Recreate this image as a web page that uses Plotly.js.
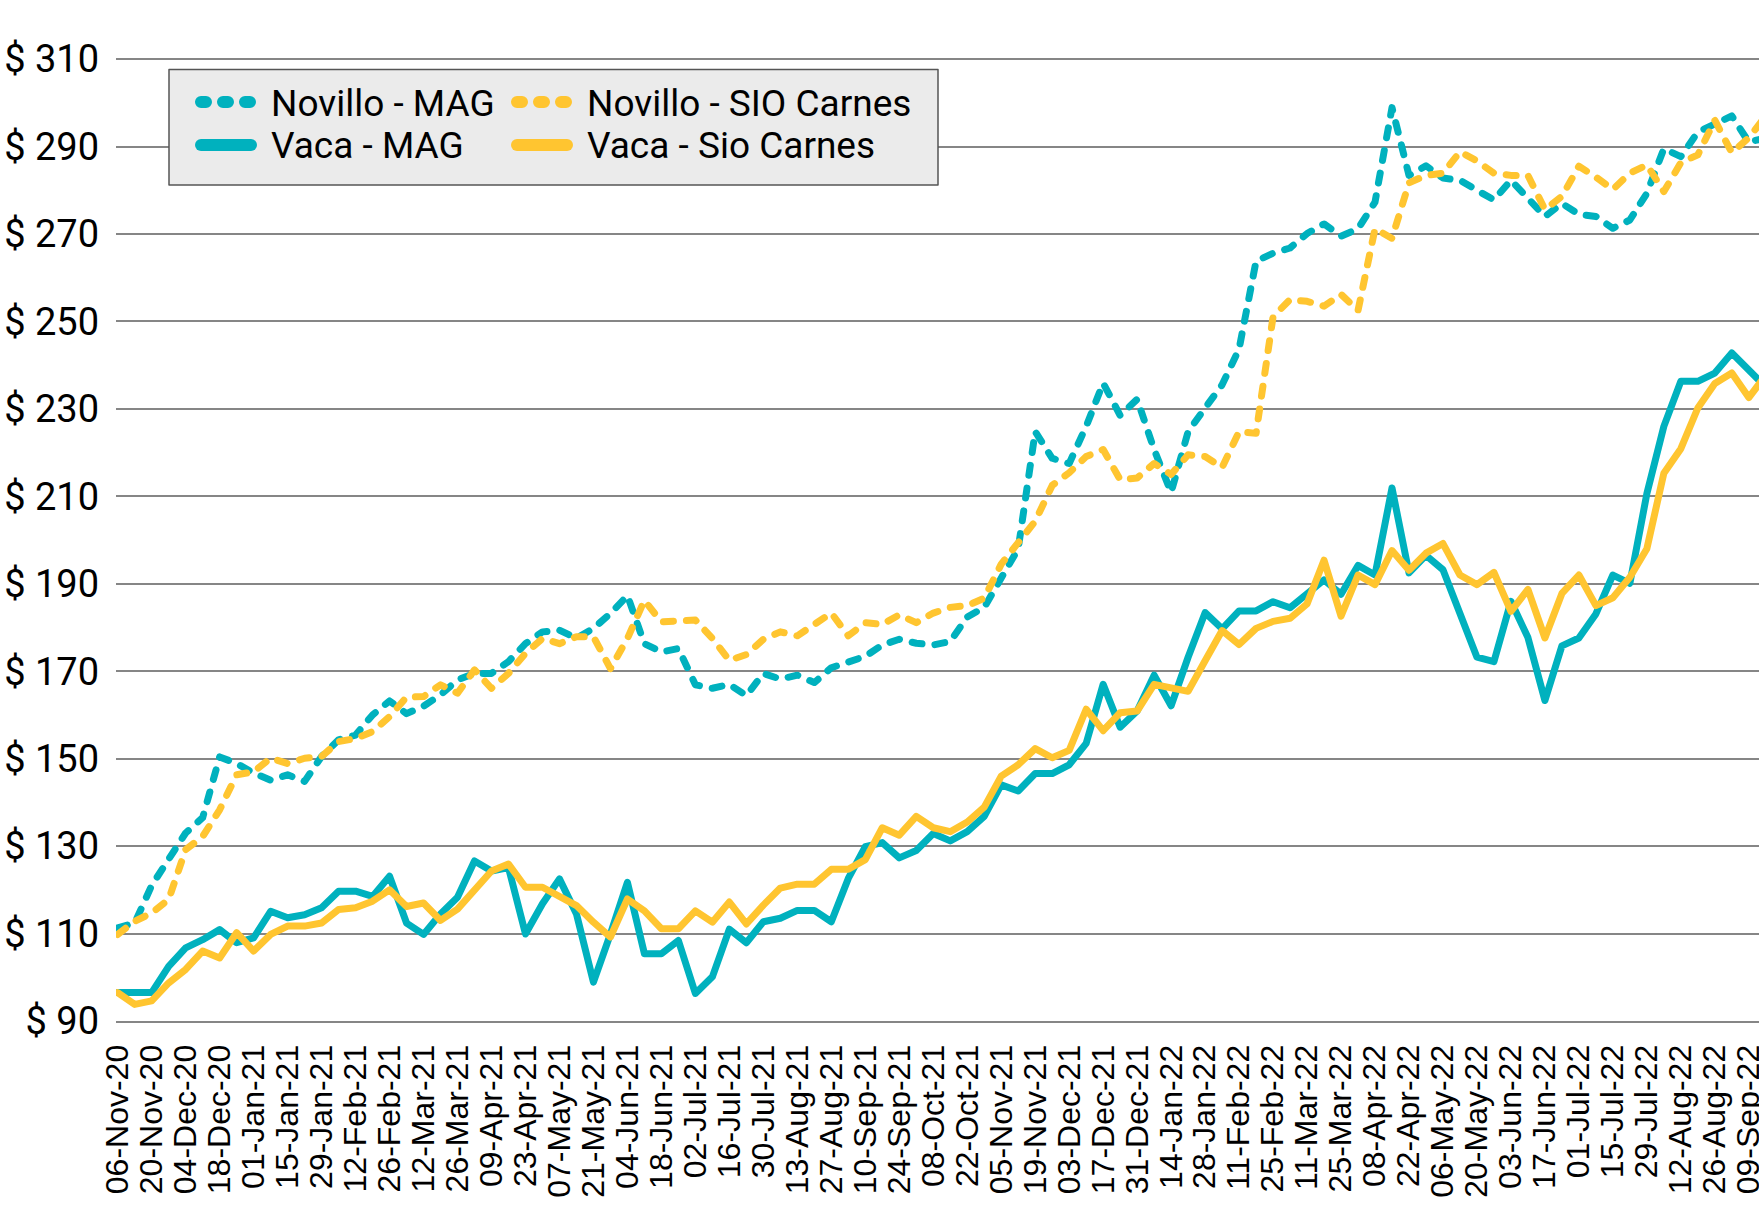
<!DOCTYPE html>
<html>
<head>
<meta charset="utf-8">
<script src="https://cdn.plot.ly/plotly-3.0.1.min.js"></script>
<style>
html,body{margin:0;padding:0;background:#fff;}
#chart{width:1759px;height:1206px;}
.scatterlayer path.js-line, .shapelayer path{stroke-linecap:round !important;stroke-linejoin:round !important;}
</style>
</head>
<body>
<div id="chart"></div>
<script>
const weeks = ["06-Nov-20","13-Nov-20","20-Nov-20","27-Nov-20","04-Dec-20","11-Dec-20","18-Dec-20","25-Dec-20","01-Jan-21","08-Jan-21",
"15-Jan-21","22-Jan-21","29-Jan-21","05-Feb-21","12-Feb-21","19-Feb-21","26-Feb-21","05-Mar-21","12-Mar-21","19-Mar-21",
"26-Mar-21","02-Apr-21","09-Apr-21","16-Apr-21","23-Apr-21","30-Apr-21","07-May-21","14-May-21","21-May-21","28-May-21",
"04-Jun-21","11-Jun-21","18-Jun-21","25-Jun-21","02-Jul-21","09-Jul-21","16-Jul-21","23-Jul-21","30-Jul-21","06-Aug-21",
"13-Aug-21","20-Aug-21","27-Aug-21","03-Sep-21","10-Sep-21","17-Sep-21","24-Sep-21","01-Oct-21","08-Oct-21","15-Oct-21",
"22-Oct-21","29-Oct-21","05-Nov-21","12-Nov-21","19-Nov-21","26-Nov-21","03-Dec-21","10-Dec-21","17-Dec-21","24-Dec-21",
"31-Dec-21","07-Jan-22","14-Jan-22","21-Jan-22","28-Jan-22","04-Feb-22","11-Feb-22","18-Feb-22","25-Feb-22","04-Mar-22",
"11-Mar-22","18-Mar-22","25-Mar-22","01-Apr-22","08-Apr-22","15-Apr-22","22-Apr-22","29-Apr-22","06-May-22","13-May-22",
"20-May-22","27-May-22","03-Jun-22","10-Jun-22","17-Jun-22","24-Jun-22","01-Jul-22","08-Jul-22","15-Jul-22","22-Jul-22",
"29-Jul-22","05-Aug-22","12-Aug-22","19-Aug-22","26-Aug-22","02-Sep-22","09-Sep-22","16-Sep-22"];

const tickLabels = ["06-Nov-20","20-Nov-20","04-Dec-20","18-Dec-20","01-Jan-21","15-Jan-21","29-Jan-21","12-Feb-21","26-Feb-21","12-Mar-21",
"26-Mar-21","09-Apr-21","23-Apr-21","07-May-21","21-May-21","04-Jun-21","18-Jun-21","02-Jul-21","16-Jul-21","30-Jul-21",
"13-Aug-21","27-Aug-21","10-Sep-21","24-Sep-21","08-Oct-21","22-Oct-21","05-Nov-21","19-Nov-21","03-Dec-21","17-Dec-21",
"31-Dec-21","14-Jan-22","28-Jan-22","11-Feb-22","25-Feb-22","11-Mar-22","25-Mar-22","08-Apr-22","22-Apr-22","06-May-22",
"20-May-22","03-Jun-22","17-Jun-22","01-Jul-22","15-Jul-22","29-Jul-22","12-Aug-22","26-Aug-22","09-Sep-22"];

const yTicks = [90,110,130,150,170,190,210,230,250,270,290,310];
const yTickText = ["$ 90","$ 110","$ 130","$ 150","$ 170","$ 190","$ 210","$ 230","$ 250","$ 270","$ 290","$ 310"];

const novilloMAG = [111.3,112.4,121,127,133,136.5,150.4,148.9,146.7,145.1,
146.3,144.8,150.5,154.3,155.4,160,163.2,160.3,162,164.6,
168,169.5,169.5,172.2,176.3,179,179.4,177.5,179.8,183.2,
187.3,176.3,174.4,175.2,166.9,166.1,167,164.4,169.5,168.2,
169.1,167.4,170.8,172.1,173.4,176,177.3,176.4,176,176.8,
182.4,184.6,191.1,198,224.8,218.7,217.5,226,235.9,228.5,
232.2,220.7,210.9,224.8,230.2,235.5,243.7,263.8,265.6,266.8,
270.1,272.3,269.5,271.2,277.3,298.9,283.4,285.6,282.8,282.3,
280,277.8,282.3,278.4,274,277,274.5,274,271.3,273.2,
279.3,289.5,287.7,293.3,295.1,297,291,292];

const novilloSIO = [109.8,112.8,114.7,117.8,129.2,132.2,138.3,146.3,147,150.1,
148.9,150.1,150.5,153.9,154.6,156.2,159.6,164.1,164.2,166.9,
165,170.3,166.1,169.5,174.1,177.5,176.3,177.9,177.9,170.6,
177.5,186.2,181.3,181.7,181.7,177.5,172.5,173.8,177.3,179,
178.1,180.7,183.3,178.1,181.1,180.7,182.9,181.1,183.3,184.6,
185,186.7,194.5,199.4,204.3,212.5,215.4,219.1,220.7,213.8,
214.2,217.5,215,219.5,219.1,216.6,224.8,224.4,251.1,255,
254.6,253.5,256.2,252.5,271.2,269,281.7,283.4,283.9,288.8,
286.7,283.9,283.4,283.4,275.6,278.6,285.5,283,280.2,283.9,
285.8,279.7,286.3,288.1,296,288.6,292,297];

const vacaMAG = [96.5,96.5,96.5,102.5,106.7,108.6,110.9,107.9,109,115.1,
113.6,114.3,115.9,119.7,119.7,118.5,123.1,112.4,109.8,114.5,
118.3,126.6,124.3,125.1,109.9,116.8,122.5,114.5,98.9,109.9,
121.7,105.4,105.4,108.4,96.3,100.1,111,107.9,112.7,113.5,
115.3,115.3,112.7,122.6,129.9,130.8,127.3,129,132.9,131.2,
133.3,136.8,144,142.6,146.6,146.6,148.6,153.5,167,157.2,
160.9,169.1,162.1,173.2,183.4,179.7,183.8,183.8,185.9,184.5,
187.6,190.9,187.6,194.2,192,211.9,192.5,196.5,193.2,183.2,
173.2,172.2,186,177.7,163.3,175.8,177.6,183.1,192,190.1,
210.6,226,236.3,236.3,238.2,242.8,238.6,235];

const vacaSIO = [96.5,93.8,94.6,98.7,101.8,106,104.4,110.2,106,109.8,
111.7,111.7,112.4,115.5,115.9,117.4,120,116.2,117,113,
115.6,120.2,124.3,125.9,120.6,120.6,118.3,116.4,112.6,109.2,
117.9,115.2,111.1,111.1,115.2,112.6,117.2,112.2,116.5,120.4,
121.3,121.3,124.7,124.7,126.9,134.2,132.5,136.8,134.2,133.3,
135.5,138.9,146,148.6,152.3,150.2,151.9,161.3,156.4,160.5,
160.9,167,166.2,165.4,172.4,179.3,176.1,179.8,181.4,182.1,
185.4,195.4,182.6,192,189.8,197.6,193.1,197,199.2,192,
189.8,192.6,183.7,188.7,177.6,187.8,192,185,186.8,191.5,
198,215.3,220.9,230.2,235.8,238.2,232.6,237.7];

const seriesNames = ["Novillo - MAG","Novillo - SIO Carnes","Vaca - MAG","Vaca - Sio Carnes"];

const TEAL = '#00b1be';
const GOLD = '#ffc530';
const PLOT_DASH = '10px,13px';
const LEG_DASH = '5px,17px';

// page geometry (pixels)
const W = 1759, H = 1206;
const M = {l:116, r:0, t:58, b:185};
const PW = W - M.l - M.r, PH = H - M.t - M.b;
function px(x){ return (x - M.l) / PW; }
function py(y){ return (H - M.b - y) / PH; }

function seriesTrace(name, y, color, dash) {
  return {type:'scatter', mode:'lines', name:name, x:weeks, y:y,
    line:{color:color, width:7, dash:dash}, showlegend:false, hoverinfo:'skip'};
}

const data = [
  seriesTrace(seriesNames[0], novilloMAG, TEAL, PLOT_DASH),
  seriesTrace(seriesNames[1], novilloSIO, GOLD, PLOT_DASH),
  seriesTrace(seriesNames[2], vacaMAG, TEAL, 'solid'),
  seriesTrace(seriesNames[3], vacaSIO, GOLD, 'solid')
];

// manual legend: box, swatches and labels
const legendItems = [
  {name:seriesNames[0], color:TEAL, dash:LEG_DASH, sx:201, tx:269, ry:102},
  {name:seriesNames[1], color:GOLD, dash:LEG_DASH, sx:517, tx:585, ry:102},
  {name:seriesNames[2], color:TEAL, dash:'solid',  sx:201, tx:269, ry:145},
  {name:seriesNames[3], color:GOLD, dash:'solid',  sx:517, tx:585, ry:145}
];
const shapes = [{type:'rect', xref:'paper', yref:'paper', layer:'above',
  x0:px(169), x1:px(938), y0:py(185), y1:py(69.5),
  fillcolor:'#ebebeb', line:{color:'#555555', width:1.5}}];
const annotations = [];
legendItems.forEach(function(it){
  shapes.push({type:'line', xref:'paper', yref:'paper', layer:'above',
    x0:px(it.sx), x1:px(it.sx + 50), y0:py(it.ry), y1:py(it.ry),
    line:{color:it.color, width:12, dash:it.dash}});
  annotations.push({xref:'paper', yref:'paper', x:px(it.tx), y:py(it.ry + 1),
    xanchor:'left', yanchor:'middle', showarrow:false, text:it.name,
    font:{family:'Roboto', size:37, color:'#000'}});
});

const layout = {
  width:W, height:H,
  margin:{l:M.l, r:M.r, t:M.t, b:M.b, pad:0},
  paper_bgcolor:'#ffffff', plot_bgcolor:'#ffffff',
  showlegend:false,
  shapes:shapes, annotations:annotations,
  xaxis:{type:'category', range:[-0.1, 96.6], tickmode:'array', tickvals:tickLabels, ticktext:tickLabels,
    tickangle:-90, tickfont:{family:'Liberation Sans', size:32, color:'#000'},
    showgrid:false, zeroline:false, showline:true, linecolor:'#868686', linewidth:2,
    ticks:'', ticklabelstandoff:9, fixedrange:true, automargin:false},
  yaxis:{range:[90,310.25], tickmode:'array', tickvals:yTicks, ticktext:yTickText,
    showgrid:true, gridcolor:'#868686', gridwidth:2, zeroline:false, showline:false,
    tickfont:{family:'Roboto', size:38, color:'#000'}, ticks:'', ticklabelstandoff:16,
    fixedrange:true, automargin:false}
};

Plotly.newPlot('chart', data, layout, {displayModeBar:false, staticPlot:true}).then(function(){
  document.querySelectorAll('.scatterlayer path.js-line, .shapelayer path').forEach(function(p){
    p.style.strokeLinecap = 'round';
    p.style.strokeLinejoin = 'round';
  });
});
</script>
</body>
</html>
